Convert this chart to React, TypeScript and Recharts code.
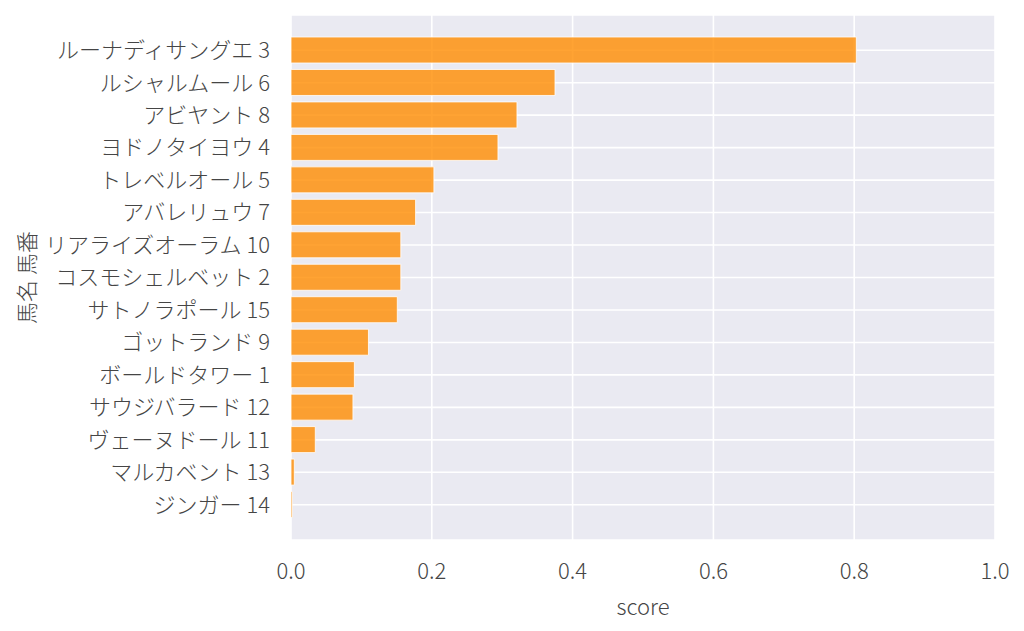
import { BarChart, Bar, XAxis, YAxis, CartesianGrid } from "recharts";

const horseNames = [
  "ルーナディサングエ",
  "ルシャルムール",
  "アビヤント",
  "ヨドノタイヨウ",
  "トレベルオール",
  "アバレリュウ",
  "リアライズオーラム",
  "コスモシェルベット",
  "サトノラポール",
  "ゴットランド",
  "ボールドタワー",
  "サウジバラード",
  "ヴェーヌドール",
  "マルカベント",
  "ジンガー",
];
const horseNumbers = [3, 6, 8, 4, 5, 7, 10, 2, 15, 9, 1, 12, 11, 13, 14];
const scores = [
  0.803, 0.375, 0.321, 0.294, 0.203, 0.177, 0.156, 0.156, 0.151, 0.11, 0.09,
  0.088, 0.0345, 0.0047, 0.0018,
];
const xTicks = [0, 0.2, 0.4, 0.6, 0.8, 1.0];

const data = horseNames.map((name, i) => ({
  label: `${name} ${horseNumbers[i]}`,
  score: scores[i],
}));

const FONT =
  '"Noto Sans CJK JP Light", "Noto Sans CJK JP", "Noto Sans", sans-serif';
const TEXT = "#454545";

export default function App() {
  return (
    <div
      style={{
        position: "fixed",
        left: 0,
        top: 0,
        width: 1024,
        height: 631,
        background: "#fff",
        fontFamily: FONT,
      }}
    >
      <BarChart
        width={1024}
        height={631}
        data={data}
        layout="vertical"
        margin={{ top: 15, right: 29, bottom: 0, left: 0 }}
      >
        <CartesianGrid fill="#eaeaf2" stroke="#ffffff" strokeWidth={1.6} />
        <XAxis
          type="number"
          dataKey="score"
          domain={[0, 1]}
          ticks={xTicks}
          tickFormatter={(v: number) => v.toFixed(1)}
          axisLine={false}
          tickLine={false}
          tickSize={0}
          tickMargin={23}
          height={91}
          tick={{ fill: TEXT, fontSize: 22, fontWeight: 300, fontFamily: FONT }}
          label={{
            content: ({ viewBox }: any) => (
              <text
                x={viewBox.x + viewBox.width / 2}
                y={viewBox.y + 65}
                textAnchor="middle"
                dominantBaseline="central"
                fill={TEXT}
                fontSize={22}
                fontWeight={300}
                fontFamily={FONT}
              >
                score
              </text>
            ),
          }}
        />
        <YAxis
          type="category"
          dataKey="label"
          width={291}
          axisLine={false}
          tickLine={false}
          tickSize={0}
          tickMargin={21}
          padding={{ top: 19, bottom: 19 }}
          interval={0}
          tick={{ fill: TEXT, fontSize: 22, fontWeight: 300, fontFamily: FONT }}
          label={{
            content: ({ viewBox }: any) => {
              const cx = viewBox.x + 25;
              const cy = viewBox.y + viewBox.height / 2;
              return (
                <text
                  x={cx}
                  y={cy}
                  textAnchor="middle"
                  dominantBaseline="central"
                  transform={`rotate(-90 ${cx} ${cy})`}
                  fill={TEXT}
                  fontSize={22}
                  fontWeight={300}
                  fontFamily={FONT}
                >
                  馬名 馬番
                </text>
              );
            },
          }}
        />
        <Bar
          dataKey="score"
          fill="#ff8c00"
          fillOpacity={0.8}
          stroke="#ffffff"
          strokeOpacity={0.8}
          strokeWidth={1}
          barSize={26}
          isAnimationActive={false}
        />
      </BarChart>
    </div>
  );
}
